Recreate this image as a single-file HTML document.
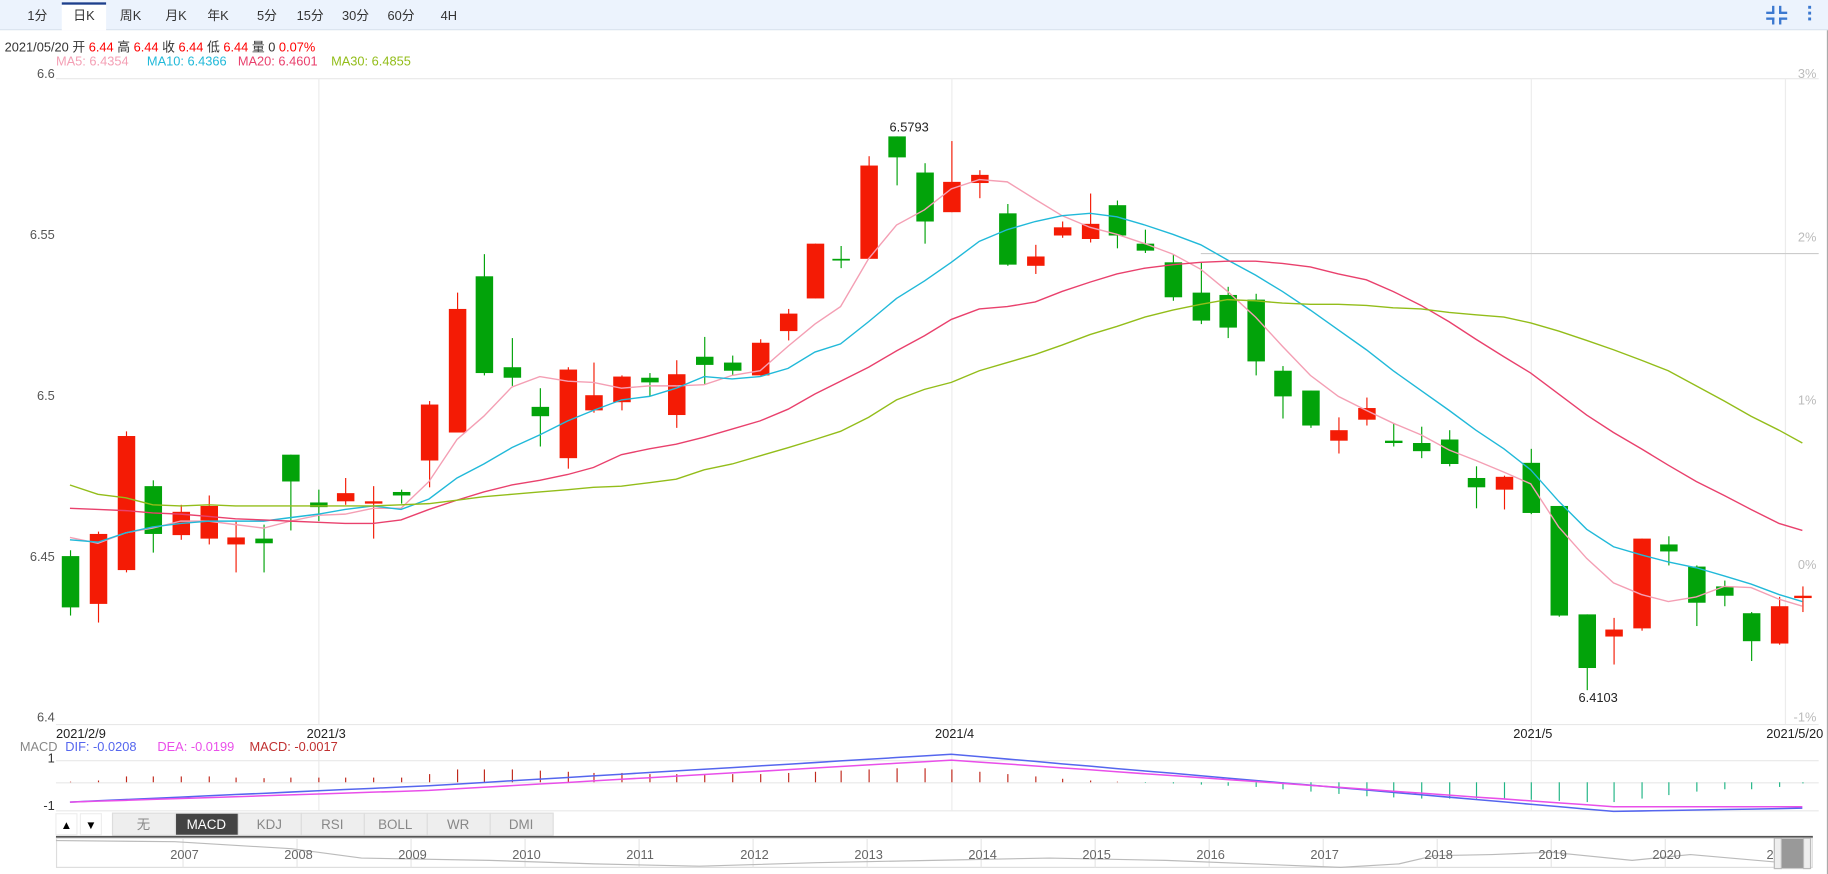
<!DOCTYPE html>
<html><head><meta charset="utf-8"><style>
body{margin:0;width:1828px;height:874px;background:#fff;overflow:hidden;font-family:"Liberation Sans","Noto Sans CJK SC",sans-serif;}
svg{position:absolute;left:0;top:0}
</style></head><body>
<svg id="s" width="1828" height="874" xmlns="http://www.w3.org/2000/svg" font-family="Liberation Sans, Noto Sans CJK SC, sans-serif">
<g transform="scale(1.16582)">
<rect x="0" y="0" width="1568" height="25" fill="#ecf3fd"/>
<line x1="0" y1="25.5" x2="1568" y2="25.5" stroke="#d8e2ee"/>
<rect x="53" y="2" width="38" height="24" fill="#fff"/>
<rect x="53" y="2" width="38" height="2" fill="#1d3f8c"/>
<g font-size="11" fill="#333" text-anchor="middle">
<text x="32" y="17">1分</text><text x="72" y="17">日K</text><text x="112" y="17">周K</text><text x="151" y="17">月K</text><text x="187" y="17">年K</text><text x="229" y="17">5分</text><text x="266" y="17">15分</text><text x="305" y="17">30分</text><text x="344" y="17">60分</text><text x="385" y="17">4H</text>
</g>
<g fill="#3b78d0"><rect x="1520" y="5" width="2" height="6"/><rect x="1515" y="10" width="7" height="2"/><rect x="1526" y="5" width="2" height="6"/><rect x="1526" y="10" width="7" height="2"/><rect x="1520" y="15" width="2" height="6"/><rect x="1515" y="15" width="7" height="2"/><rect x="1526" y="15" width="2" height="6"/><rect x="1526" y="15" width="7" height="2"/>
<rect x="1551" y="5" width="2.5" height="2.5"/><rect x="1551" y="10" width="2.5" height="2.5"/><rect x="1551" y="15" width="2.5" height="2.5"/></g>
<text x="4" y="44" font-size="11" fill="#333">2021/05/20 开 <tspan fill="#f00">6.44</tspan> 高 <tspan fill="#f00">6.44</tspan> 收 <tspan fill="#f00">6.44</tspan> 低 <tspan fill="#f00">6.44</tspan> 量 0 <tspan fill="#f00">0.07%</tspan></text>
<g font-size="11"><text x="48" y="56" fill="#f49fb4">MA5: 6.4354</text><text x="126" y="56" fill="#21b9d9">MA10: 6.4366</text><text x="204" y="56" fill="#e9416d">MA20: 6.4601</text><text x="284" y="56" fill="#93bd1a">MA30: 6.4855</text></g>
<line x1="48" y1="67.5" x2="1560" y2="67.5" stroke="#e8e8e8"/>
<line x1="48" y1="621.5" x2="1560" y2="621.5" stroke="#e8e8e8"/>
<g stroke="#ececec"><line x1="273.5" y1="67" x2="273.5" y2="621"/><line x1="816.5" y1="67" x2="816.5" y2="695"/><line x1="1313.5" y1="67" x2="1313.5" y2="695"/><line x1="1531.5" y1="67" x2="1531.5" y2="621"/><line x1="273.5" y1="642" x2="273.5" y2="695"/></g>
<line x1="1030" y1="217.5" x2="1560" y2="217.5" stroke="#ccc"/>
<g font-size="11" fill="#555" text-anchor="end"><text x="47" y="67">6.6</text><text x="47" y="205">6.55</text><text x="47" y="343">6.5</text><text x="47" y="481">6.45</text><text x="47" y="619">6.4</text></g>
<g font-size="11" fill="#bbb" text-anchor="end"><text x="1558" y="67">3%</text><text x="1558" y="207">2%</text><text x="1558" y="347">1%</text><text x="1558" y="488">0%</text><text x="1558" y="619">-1%</text></g>
<text x="1683" y="101" font-size="11" fill="#ccc" font-style="italic">sina 新浪财经</text>
<g font-size="11" fill="#222"><text x="48" y="633">2021/2/9</text><text x="263" y="633">2021/3</text><text x="802" y="633">2021/4</text><text x="1298" y="633">2021/5</text><text x="1515" y="633">2021/5/20</text></g>
<text x="763" y="113" font-size="11" fill="#222">6.5793</text>
<text x="1354" y="602" font-size="11" fill="#222">6.4103</text>
<g id="c"></g>
<g fill="none" stroke-width="1.2">
<polyline id="m5" stroke="#f49fb4"/><polyline id="m10" stroke="#21b9d9"/><polyline id="m20" stroke="#e9416d"/><polyline id="m30" stroke="#93bd1a"/>
</g>
<g font-size="11"><text x="17" y="644" fill="#888">MACD</text><text x="56" y="644" fill="#5566ee">DIF: -0.0208</text><text x="135" y="644" fill="#e94fe9">DEA: -0.0199</text><text x="214" y="644" fill="#c03030">MACD: -0.0017</text></g>
<g stroke="#e8e8e8"><line x1="48" y1="652.5" x2="1560" y2="652.5"/><line x1="48" y1="671.5" x2="1560" y2="671.5"/><line x1="48" y1="695.5" x2="1560" y2="695.5"/></g>
<g font-size="11" fill="#333" text-anchor="end"><text x="47" y="654">1</text><text x="47" y="695">-1</text></g>
<g id="h"></g>
<polyline id="dif" fill="none" stroke="#5566ee" stroke-width="1.3"/>
<polyline id="dea" fill="none" stroke="#e94fe9" stroke-width="1.3"/>
<rect x="48" y="698" width="18" height="18" fill="#fff" stroke="#eee"/><text x="57" y="711" font-size="10" text-anchor="middle">▲</text>
<rect x="69" y="698" width="18" height="18" fill="#fff" stroke="#eee"/><text x="78" y="711" font-size="10" text-anchor="middle">▼</text>
<g font-size="11.5" text-anchor="middle" fill="#888">
<rect x="96.5" y="697.5" width="54" height="19" fill="#eee" stroke="#ddd"/><text x="123" y="711">无</text>
<rect x="150.5" y="697.5" width="54" height="19" fill="#444" stroke="#ddd"/><text x="177" y="711" fill="#fff">MACD</text>
<rect x="204.5" y="697.5" width="54" height="19" fill="#eee" stroke="#ddd"/><text x="231" y="711">KDJ</text>
<rect x="258.5" y="697.5" width="54" height="19" fill="#eee" stroke="#ddd"/><text x="285" y="711">RSI</text>
<rect x="312.5" y="697.5" width="54" height="19" fill="#eee" stroke="#ddd"/><text x="339" y="711">BOLL</text>
<rect x="366.5" y="697.5" width="54" height="19" fill="#eee" stroke="#ddd"/><text x="393" y="711">WR</text>
<rect x="420.5" y="697.5" width="54" height="19" fill="#eee" stroke="#ddd"/><text x="447" y="711">DMI</text>
</g>
<rect x="48" y="717" width="1507" height="2" fill="#555"/>
<rect x="48.5" y="719" width="1506" height="25" fill="none" stroke="#ddd"/>
<g stroke="#e6e6e6" id="ng"></g>
<polyline fill="none" stroke="#bbb" points="48,721 150,722 250,728 310,736 420,738 510,741 600,743 700,740 800,738 900,736 1000,738 1100,742 1150,744 1200,741 1230,734 1280,733 1330,731 1400,738 1450,733 1530,740"/>
<g font-size="11" fill="#666" id="ny"></g>
<rect x="1522" y="719" width="30" height="26" fill="#999" stroke="#ccc"/>
<rect x="1522" y="719" width="6" height="26" fill="#eee" stroke="#bbb"/><rect x="1547" y="719" width="6" height="26" fill="#eee" stroke="#bbb"/>
<line x1="1567.5" y1="26" x2="1567.5" y2="750" stroke="#aaa"/>
</g>
</svg>
<script>
var C=[[60,'g',477,521,472,528],[84,'r',458,518,456,534],[108,'r',374,489,370,491],[131,'g',417,458,412,474],[155,'r',439,459,433,463],[179,'r',434,462,425,467],[202,'r',461,467,447,491],[226,'g',462,466,450,491],[249,'g',390,413,390,455],[273,'g',431,435,420,447],[296,'r',423,430,410,433],[320,'r',430,432,417,462],[344,'g',422,425,420,432],[368,'r',347,395,344,418],[392,'r',265,371,251,360],[415,'g',237,320,218,322],[439,'g',315,324,290,331],[463,'g',349,357,333,383],[487,'r',317,393,315,402],[509,'r',339,352,311,354],[533,'r',323,345,322,352],[557,'g',324,328,320,340],[580,'r',321,356,309,367],[604,'g',306,313,289,330],[628,'g',311,318,305,322],[652,'r',294,322,291,322],[676,'r',269,284,265,292],[699,'r',209,256,209,256],[721,'g',222,223,211,230],[745,'r',142,222,134,222],[769,'g',117,135,117,159],[793,'g',148,190,140,209],[816,'r',156,182,121,182],[840,'r',150,157,146,170],[864,'g',183,227,175,228],[888,'r',220,228,210,235],[911,'r',195,202,190,204],[935,'r',192,205,166,208],[958,'g',176,202,172,213],[982,'g',209,215,197,217],[1006,'g',225,255,218,258],[1030,'g',251,275,225,278],[1053,'g',253,281,246,290],[1077,'g',257,310,252,322],[1100,'g',318,340,314,359],[1124,'g',335,365,335,367],[1148,'r',369,378,358,389],[1172,'r',350,360,341,365],[1195,'g',378,380,363,383],[1219,'g',380,387,366,393],[1243,'g',377,398,369,400],[1266,'g',410,418,400,436],[1290,'r',409,420,408,437],[1313,'g',397,440,385,441],[1337,'g',434,528,434,529],[1361,'g',527,573,527,592],[1384,'r',540,546,530,570],[1408,'r',462,539,462,541],[1431,'g',467,473,460,485],[1455,'g',486,517,485,537],[1479,'g',503,511,498,520],[1502,'g',526,550,525,567],[1526,'r',520,552,512,553],[1546,'r',511,513,503,525]];
var s='';C.forEach(function(c){var col=c[1]=='r'?'#f41b05':'#02a30a';s+='<line x1="'+(c[0]+.5)+'" y1="'+c[4]+'" x2="'+(c[0]+.5)+'" y2="'+c[5]+'" stroke="'+col+'"/>';var h=Math.max(1.5,c[3]-c[2]);s+='<rect x="'+(c[0]-7)+'" y="'+c[2]+'" width="15" height="'+h+'" fill="'+col+'"/>';});
document.getElementById('c').innerHTML=s;
var X=C.map(function(c){return c[0]});
function P(id,ys){document.getElementById(id).setAttribute('points',ys.map(function(y,i){return X[i]+','+y}).join(' '));}
P('m5',[461,466,457,453,447,447,450,453,447,442,441,436,436,413,377,357,332,323,327,328,333,331,331,330,322,318,297,278,263,222,193,180,162,154,156,171,185,195,201,209,218,231,250,272,297,322,340,352,363,373,386,395,405,415,452,479,500,510,516,512,503,504,514,520]);
P('m10',[463,465,457,452,449,447,447,447,444,441,437,434,437,428,410,398,384,373,361,352,343,340,333,323,325,323,316,302,295,276,256,241,225,207,197,190,185,183,186,193,201,210,223,236,250,266,283,300,318,335,352,369,385,403,430,454,469,476,482,487,494,501,510,516]);
P('m20',[436,437,438,440,441,443,445,446,447,448,449,449,446,437,429,422,416,412,407,401,390,385,381,375,368,361,351,338,327,315,301,288,274,265,263,259,250,242,235,230,227,225,224,224,226,229,235,240,250,262,276,291,306,320,338,356,371,385,399,413,425,437,449,455]);
P('m30',[416,424,427,433,434,433,434,434,434,434,434,434,433,432,429,426,424,422,420,418,417,414,411,403,398,391,384,377,370,358,343,334,328,318,311,304,296,287,280,272,266,261,257,258,260,261,261,262,264,265,268,270,272,277,284,292,300,309,318,331,344,357,369,380]);
var H=[0.5,1.5,5,5,5,5,4,3.5,4,4,4,4,4,7,11,11,11,10,9,8,8,7,7,7,7,7,8,9,10,11,12,12,11,9,7,5,3,1.5,0.5,-0.5,-1,-2,-3,-4,-6,-8,-10,-12,-13,-14,-14,-14,-14,-15,-16,-17,-17,-14,-11,-8,-6,-6,-4,-1];
var n=C.length,dif=[],dea=[],hs='';
for(var i=0;i<n;i++){var x=X[i];var d,e;
 if(i<=13){d=688-i*(14/13);e=688-i*(10/13);} else if(i<=32){d=674-(i-13)*(27/19);e=678-(i-13)*(26/19);} else if(i<=56){d=647+(i-32)*(49/24);e=652+(i-32)*(40/24);} else {d=696-(i-56)*0.4;e=692;}
 dif.push(x+','+d.toFixed(1));dea.push(x+','+e.toFixed(1));
 var hv=H[i]||0;var col=hv>0?'#c0281c':'#20b585';var y1=671,y2=671-hv;
 hs+='<line x1="'+(x+.5)+'" y1="'+Math.min(y1,y2)+'" x2="'+(x+.5)+'" y2="'+Math.max(y1,y2)+'" stroke="'+col+'"/>';}
document.getElementById('h').innerHTML=hs;
document.getElementById('dif').setAttribute('points',dif.join(' '));
document.getElementById('dea').setAttribute('points',dea.join(' '));
var ng='',ny='';for(var k=0;k<15;k++){var xx=157+k*97.8;if(xx>1540)break;ng+='<line x1="'+xx+'" y1="719" x2="'+xx+'" y2="744"/>';ny+='<text x="'+(xx-11)+'" y="737">'+(2007+k)+'</text>';}
document.getElementById('ng').innerHTML=ng;document.getElementById('ny').innerHTML=ny;
</script>
</body></html>
